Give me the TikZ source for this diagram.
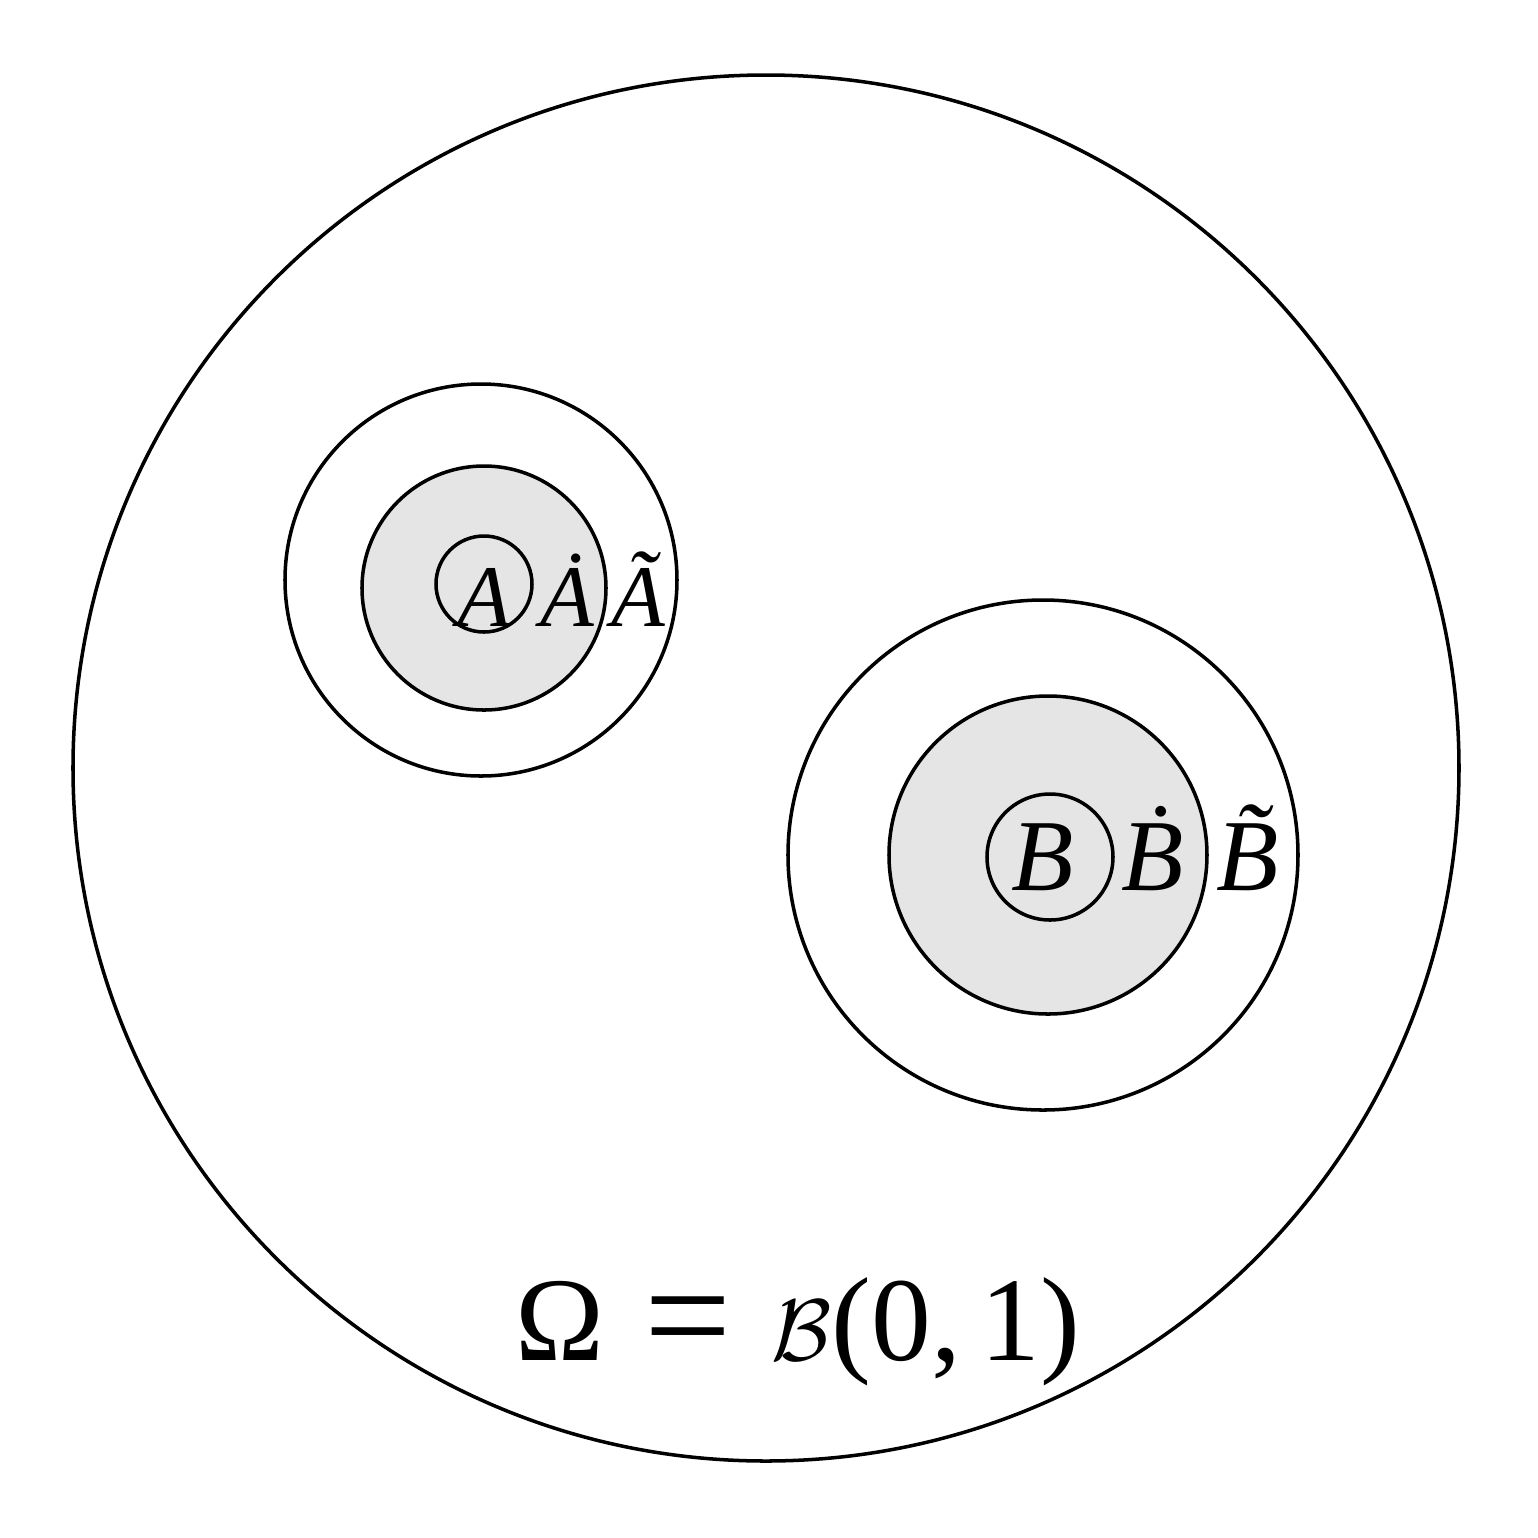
\documentclass[tikz,border=0pt]{standalone}
\usepackage{fontspec}
\setmainfont{Liberation Serif}
\begin{document}
\begin{tikzpicture}[x=0.01cm,y=-0.01cm,
  ring/.style={draw=black,line width=1pt},
  shade/.style={ring,fill=gray!20},
  lblA/.style={anchor=base,inner sep=0pt,font=\fontsize{25}{25}\selectfont\itshape},
  lblB/.style={anchor=base,inner sep=0pt,font=\fontsize{29}{29}\selectfont\itshape}]
\useasboundingbox (0,0) rectangle (1538,1538);
\draw[ring] (766,768) circle[radius=693];
% A
\draw[ring] (481,580) circle[radius=196];
\draw[shade] (484,588) circle[radius=122];
\draw[ring] (484,584) circle[radius=48];
\node[lblA] (a1) at (484,626) {A};
\node[lblA] (a2) at (567,626) {\.A};
\node[lblA] (a3) at (638,626) {\~A};
% B
\draw[ring] (1043,855) circle[radius=255];
\draw[shade] (1048,855) circle[radius=159];
\draw[ring] (1050,857) circle[radius=63];
\node[lblB] (b1) at (1043,890) {B};
\node[lblB] (b2) at (1153,890) {\.B};
\node[lblB] (b3) at (1248,890) {\~B};
\node[anchor=base,inner sep=0pt,font=\fontsize{34}{34}\selectfont] (om) at (798,1360) {Ω\,\,{\fontsize{44}{44}\selectfont\raisebox{-0.05em}{=}}\,\,$\mathcal{B}$(0,\,1)};
\end{tikzpicture}
\end{document}
